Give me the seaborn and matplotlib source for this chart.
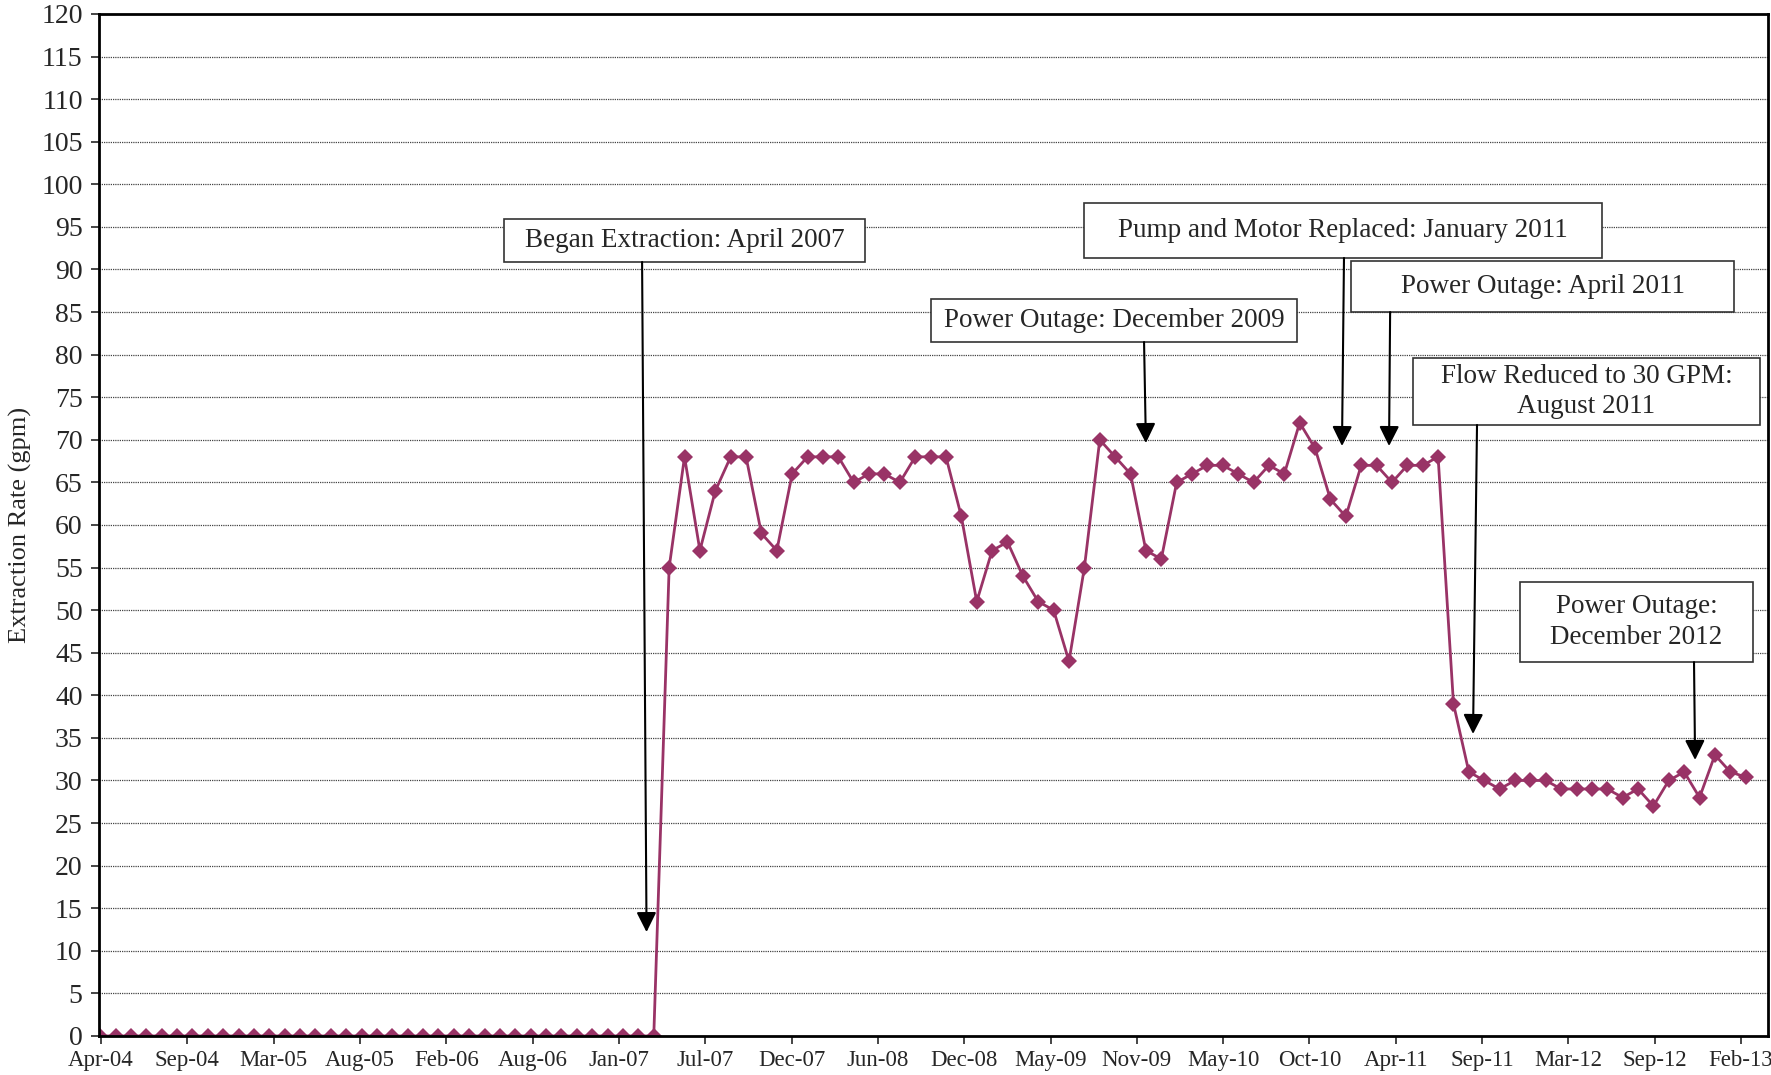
import numpy as np
import pandas as pd
import matplotlib
matplotlib.use('Agg')
import matplotlib.pyplot as plt
from matplotlib.patches import Rectangle
import seaborn as sns

# data - monthly extraction rate (gpm), 37 months before start of extraction
pre_extraction = [0] * 37
extraction = [55, 68, 57, 64, 68, 68, 59, 57, 66, 68, 68, 68, 65, 66, 66, 65, 68, 68, 68, 61,
              51, 57, 58, 54, 51, 50, 44, 55, 70,
              68, 66, 57, 56, 65, 66, 67, 67, 66, 65, 67, 66, 72, 69, 63, 61, 67, 67, 65, 67, 67, 68,
              39, 31, 30, 29, 30, 30, 30, 29, 29, 29, 29, 28, 29, 27, 30, 31, 28, 33, 31, 30.4]
rate = pre_extraction + extraction
tick_labels = ['Apr-04', 'Sep-04', 'Mar-05', 'Aug-05', 'Feb-06', 'Aug-06', 'Jan-07', 'Jul-07',
               'Dec-07', 'Jun-08', 'Dec-08', 'May-09', 'Nov-09', 'May-10', 'Oct-10', 'Apr-11',
               'Sep-11', 'Mar-12', 'Sep-12', 'Feb-13']

df = pd.DataFrame({'sample': np.arange(len(rate)), 'rate': rate})

# notes: text, box (x0, y0, x1, y1), arrow start, arrow tip
notes = [
    ('Began Extraction: April 2007', (26.27, 90.88, 49.74, 95.93), (35.24, 90.88), (35.53, 12.2)),
    ('Pump and Motor Replaced: January 2011', (63.98, 91.35, 97.66, 97.80), (80.88, 91.35), (80.75, 69.27)),
    ('Power Outage: April 2011', (81.34, 85.0, 106.24, 91.0), (83.88, 85.0), (83.81, 69.27)),
    ('Power Outage: December 2009', (54.03, 81.48, 77.83, 86.53), (67.88, 81.48), (68.0, 69.62)),
    ('Flow Reduced to 30 GPM:\nAugust 2011', (85.37, 71.74, 107.93, 79.6), (89.53, 71.74), (89.27, 35.46)),
    ('Power Outage:\nDecember 2012', (92.33, 43.9, 107.48, 53.3), (103.64, 43.9), (103.71, 32.41)),
]

sns.set_style('ticks')
plt.rcParams['font.family'] = ['Liberation Serif', 'DejaVu Serif']

fig = plt.figure(figsize=(17.71, 10.75), dpi=100)
ax = fig.add_axes([0.0561, 0.0363, 0.9422, 0.9507])

for y in range(5, 120, 5):
    ax.axhline(y, color='#444444', linestyle=(0, (1, 0.8)), linewidth=0.9, zorder=1)

sns.lineplot(data=df, x='sample', y='rate', color='#993366', linewidth=2,
             marker='D', markersize=8.5, markeredgewidth=0, ax=ax, zorder=3)

ax.set_xlim(-0.05, 108.45)
ax.set_ylim(0, 120)
ax.set_yticks(np.arange(0, 121, 5))
ax.set_xticks(np.linspace(0.06, 106.7, len(tick_labels)))
ax.set_xticklabels(tick_labels, fontsize=16.5)
ax.tick_params(axis='y', labelsize=20, length=6, width=1.2, pad=6, direction='out')
ax.tick_params(axis='x', length=6, width=1.2, pad=4, direction='out')
for sp in ax.spines.values():
    sp.set_linewidth(2)
    sp.set_color('black')
    sp.set_zorder(4)

ax.set_xlabel('')
ax.set_ylabel('Extraction Rate (gpm)', fontsize=19)
ax.yaxis.set_label_coords(-0.0404, 0.5)

for text, (x0, y0, x1, y1), start, tip in notes:
    ax.add_patch(Rectangle((x0, y0), x1 - x0, y1 - y0, facecolor='white', edgecolor='#333333',
                           linewidth=1.2, zorder=5))
    ax.text((x0 + x1) / 2, (y0 + y1) / 2, text, ha='center', va='center', fontsize=19.5,
            linespacing=1.3, zorder=6)
    ax.annotate('', xy=tip, xytext=start,
                arrowprops=dict(arrowstyle='-|>,head_length=0.6,head_width=0.3', color='black',
                                lw=1.5, mutation_scale=20, shrinkA=0, shrinkB=0), zorder=6)

fig.savefig('out.png', dpi=100)
